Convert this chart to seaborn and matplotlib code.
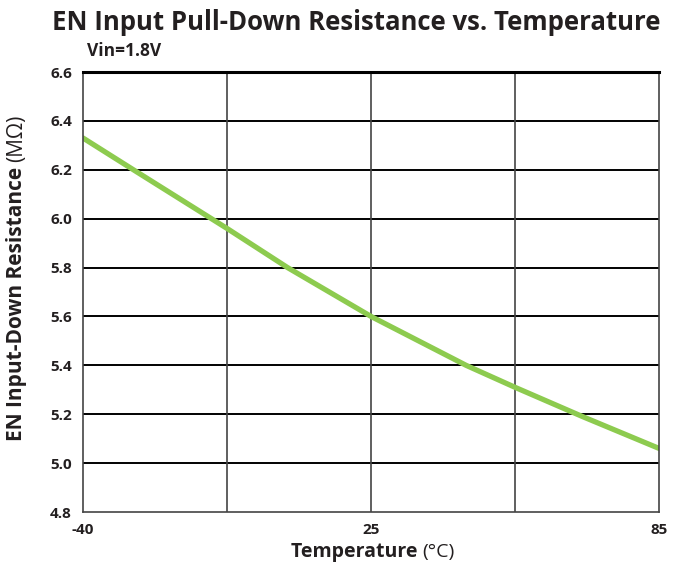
import matplotlib
matplotlib.use("Agg")
import matplotlib.pyplot as plt
import seaborn as sns
import pandas as pd

# curve (x = position on the evenly spaced temperature axis)
x_pos = [0.0, 0.35, 1.0, 1.42, 2.0, 2.66, 3.0, 3.47, 4.0]
resistance = [6.33, 6.20, 5.96, 5.80, 5.60, 5.40, 5.31, 5.19, 5.06]
x_tick_pos = [0, 2, 4]
x_tick_labels = ["-40", "25", "85"]
y_ticks = [4.8, 5.0, 5.2, 5.4, 5.6, 5.8, 6.0, 6.2, 6.4, 6.6]

df = pd.DataFrame({"pos": x_pos, "res": resistance})

sns.set_style("white")
plt.rcParams['font.family'] = ['Open Sans', 'DejaVu Sans']

fig = plt.figure(figsize=(6.85, 5.67), dpi=100)
ax = fig.add_axes([0.1212, 0.097, 0.841, 0.776])

sns.lineplot(data=df, x="pos", y="res", ax=ax, color="#8DCB4F", linewidth=3.8)

ax.set_xlim(0, 4)
ax.set_ylim(4.8, 6.6)
ax.set_yticks(y_ticks)
ax.set_yticklabels([f"{v:.1f}" for v in y_ticks])
ax.set_xticks(x_tick_pos)
ax.set_xticklabels(x_tick_labels)
for v in y_ticks[1:-1]:
    ax.axhline(v, color="black", linewidth=1.4, zorder=1)
for p in [1, 2, 3]:
    ax.axvline(p, color="#444444", linewidth=1.2, zorder=1)

for side in ["left", "right", "bottom"]:
    ax.spines[side].set_color("#444444")
    ax.spines[side].set_linewidth(1.2)
ax.spines["top"].set_color("black")
ax.spines["top"].set_linewidth(2.2)

ax.tick_params(axis="y", length=0, pad=8)
ax.tick_params(axis="x", length=0, pad=8)
for lab in ax.get_xticklabels() + ax.get_yticklabels():
    lab.set_fontweight("bold")
    lab.set_fontsize(11)
    lab.set_color("#231F20")
ax.set_xlabel("")
ax.set_ylabel("")

fig.text(0.52, 0.96, "EN Input Pull-Down Resistance vs. Temperature",
         ha="center", va="center", fontsize=18.5, fontweight="bold", color="#231F20")
fig.text(0.127, 0.91, "Vin=1.8V", ha="left", va="center", fontsize=12.5,
         fontweight="bold", color="#231F20")

# axis labels with bold name + regular unit
fig.canvas.draw()
r = fig.canvas.get_renderer()

xb = fig.text(0, 0.027, "Temperature ", fontsize=14, fontweight="bold", color="#231F20", va="center")
xn = fig.text(0, 0.027, "(°C)", fontsize=14, color="#231F20", va="center")
wb = xb.get_window_extent(r).width / fig.bbox.width
wn = xn.get_window_extent(r).width / fig.bbox.width
x0 = 0.544 - (wb + wn) / 2
xb.set_x(x0)
xn.set_x(x0 + wb)

yb = fig.text(0.024, 0, "EN Input-Down Resistance ", fontsize=15, fontweight="bold",
              rotation=90, color="#231F20", ha="center", va="bottom")
yn = fig.text(0.024, 0, "(MΩ)", fontsize=15, rotation=90, color="#231F20",
              ha="center", va="bottom")
hb = yb.get_window_extent(r).height / fig.bbox.height
hn = yn.get_window_extent(r).height / fig.bbox.height
y0 = 0.51 - (hb + hn) / 2
yb.set_y(y0)
yn.set_y(y0 + hb)

fig.savefig("out.png", dpi=100)
